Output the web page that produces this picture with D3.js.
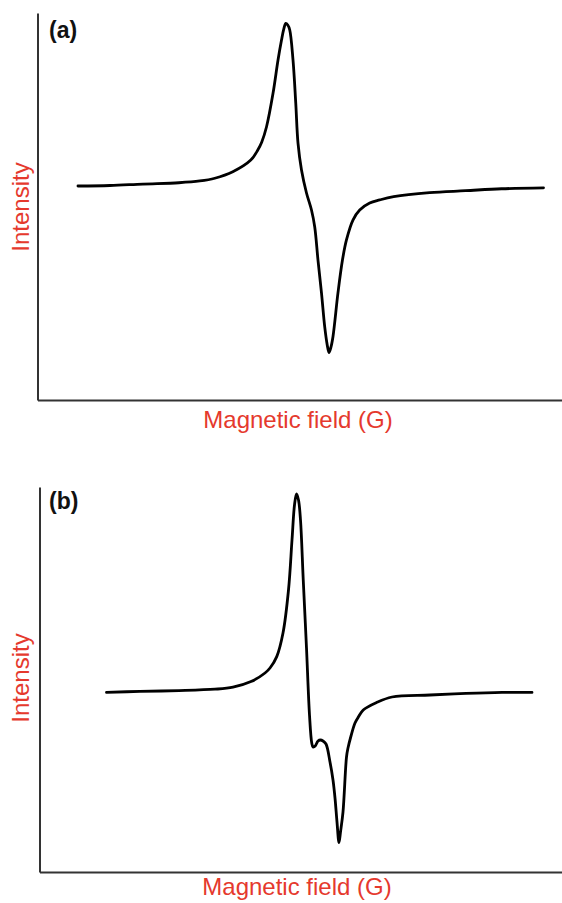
<!DOCTYPE html>
<html>
<head>
<meta charset="utf-8">
<script src="https://cdn.jsdelivr.net/npm/d3@7"></script>
<style>
  html, body { margin: 0; padding: 0; background: #fff; }
  svg { display: block; }
</style>
</head>
<body>
<div id="chart"></div>
<script>
// ---- Data (arbitrary units) ----
const panelLabels = ["(a)", "(b)"];
const xAxisLabel = "Magnetic field (G)";
const yAxisLabel = "Intensity";

// Panel (a)
const fieldA = [3396.2, 3409.0, 3422.2, 3436.6, 3445.0, 3451.0, 3458.2, 3465.4, 3468.2, 3469.8,
  3471.7, 3474.3, 3476.3, 3477.7, 3478.6, 3479.4, 3480.2, 3481.0, 3482.3, 3483.4,
  3484.3, 3485.7, 3487.7, 3489.7, 3491.0, 3492.3, 3493.7, 3495.0, 3496.0, 3496.7,
  3497.4, 3498.3, 3500.3, 3502.1, 3503.7, 3506.3, 3509.0, 3513.0, 3517.0, 3522.6,
  3537.0, 3551.4, 3565.8, 3582.6];
const intensityA = [0.000, 0.003, 0.012, 0.020, 0.031, 0.048, 0.088, 0.160, 0.222, 0.272,
  0.366, 0.572, 0.778, 0.901, 0.969, 1.004, 0.994, 0.963, 0.778, 0.512,
  0.265, 0.099, -0.043, -0.148, -0.253, -0.457, -0.660, -0.870, -0.981, -1.028,
  -1.000, -0.930, -0.660, -0.457, -0.333, -0.210, -0.148, -0.105, -0.086, -0.066,
  -0.041, -0.029, -0.017, -0.011];

// Panel (b)
const fieldB = [3406.8, 3420.2, 3435.8, 3450.2, 3457.4, 3464.6, 3470.2, 3472.2, 3474.9, 3477.4,
  3479.6, 3481.0, 3482.0, 3482.8, 3483.6, 3484.4, 3485.5, 3486.8, 3488.0, 3488.9,
  3489.4, 3490.3, 3491.4, 3492.4, 3493.4, 3494.6, 3496.2, 3497.4, 3498.2, 3499.0,
  3499.8, 3500.4, 3501.4, 3502.8, 3503.4, 3504.6, 3506.2, 3507.6, 3509.5, 3514.8,
  3521.0, 3536.2, 3550.6, 3565.0, 3577.0];
const intensityB = [-0.002, 0.003, 0.007, 0.014, 0.024, 0.052, 0.095, 0.120, 0.177, 0.295,
  0.510, 0.760, 0.935, 0.990, 0.960, 0.860, 0.560, 0.220, -0.115, -0.255,
  -0.275, -0.270, -0.245, -0.240, -0.245, -0.260, -0.350, -0.440, -0.530, -0.650,
  -0.753, -0.700, -0.600, -0.325, -0.280, -0.220, -0.155, -0.124, -0.090, -0.053,
  -0.025, -0.015, -0.007, -0.002, -0.002];

// Axis domains (no tick labels shown)
const fieldDomainA = [3380, 3590];
const fieldDomainB = [3380, 3589];
const intensityDomainA = [-1.321, 1.068];
const intensityDomainB = [-0.9, 1.025];

// ---- Layout ----
const W = 562, H = 903;
const labelColor = "#e5392d";
const axisColor = "#333";
const fontFam = "'Liberation Sans', Arial, Helvetica, sans-serif";

const panels = [
  { label: panelLabels[0], field: fieldA, intensity: intensityA,
    xDom: fieldDomainA, yDom: intensityDomainA,
    left: 37.5, right: 562, top: 13, bottom: 400,
    tagY: 38, yLabelY: 207, xLabelX: 298, xLabelY: 428 },
  { label: panelLabels[1], field: fieldB, intensity: intensityB,
    xDom: fieldDomainB, yDom: intensityDomainB,
    left: 39.5, right: 562, top: 487, bottom: 872,
    tagY: 509, yLabelY: 678, xLabelX: 297, xLabelY: 895 }
];

const svg = d3.select("#chart").append("svg")
  .attr("width", W).attr("height", H)
  .attr("viewBox", `0 0 ${W} ${H}`);

panels.forEach(p => {
  const x = d3.scaleLinear().domain(p.xDom).range([p.left, p.right]);
  const y = d3.scaleLinear().domain(p.yDom).range([p.bottom, p.top]);
  const g = svg.append("g");

  const data = p.field.map((f, i) => ({ f, v: p.intensity[i] }));

  // axes: plain lines, no ticks
  const xAxis = d3.axisBottom(x).tickValues([]).tickSizeOuter(0);
  const yAxis = d3.axisLeft(y).tickValues([]).tickSizeOuter(0);
  g.append("g").attr("transform", `translate(0,${p.bottom})`).call(xAxis)
    .select(".domain").attr("stroke", axisColor).attr("stroke-width", 2);
  g.append("g").attr("transform", `translate(${p.left},0)`).call(yAxis)
    .select(".domain").attr("stroke", axisColor).attr("stroke-width", 2);

  // spectrum
  const line = d3.line()
    .x(d => x(d.f))
    .y(d => y(d.v))
    .curve(d3.curveCatmullRom.alpha(0.5));
  g.append("path").datum(data)
    .attr("d", line)
    .attr("fill", "none")
    .attr("stroke", "#000")
    .attr("stroke-width", 2.8)
    .attr("stroke-linejoin", "round")
    .attr("stroke-linecap", "round");

  // panel tag
  g.append("text")
    .attr("x", 49).attr("y", p.tagY)
    .attr("font-family", fontFam)
    .attr("font-weight", "bold")
    .attr("font-size", 23)
    .attr("fill", "#111")
    .text(p.label);

  // y label
  g.append("text")
    .attr("transform", `translate(29,${p.yLabelY}) rotate(-90)`)
    .attr("text-anchor", "middle")
    .attr("font-family", fontFam)
    .attr("font-size", 24)
    .attr("fill", labelColor)
    .text(yAxisLabel);

  // x label
  g.append("text")
    .attr("x", p.xLabelX).attr("y", p.xLabelY)
    .attr("text-anchor", "middle")
    .attr("font-family", fontFam)
    .attr("font-size", 24)
    .attr("fill", labelColor)
    .text(xAxisLabel);
});
</script>
</body>
</html>
